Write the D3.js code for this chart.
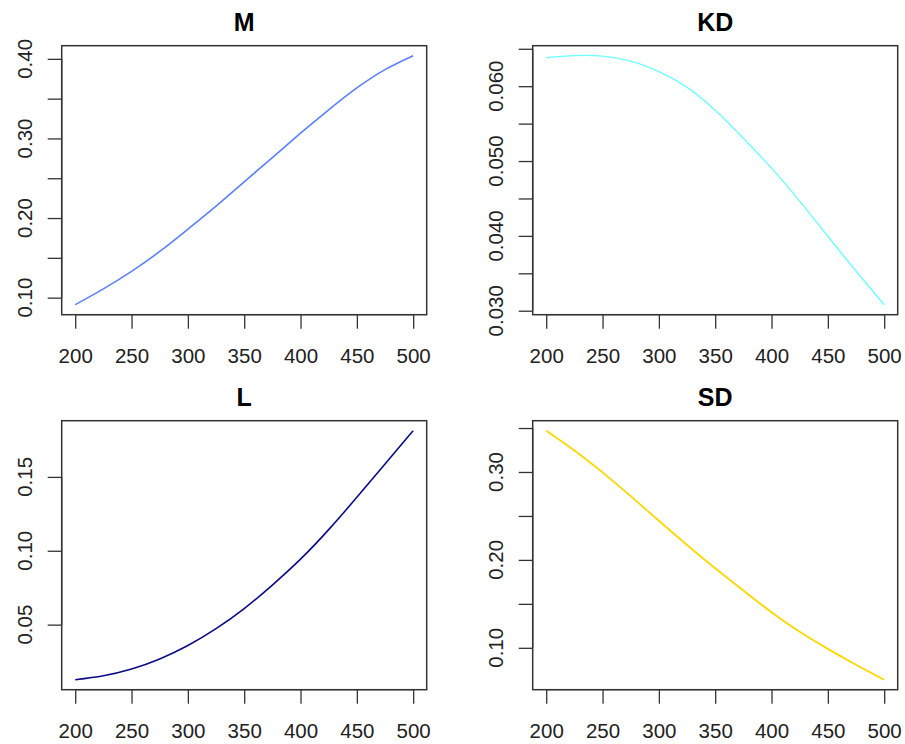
<!DOCTYPE html>
<html>
<head>
<meta charset="utf-8">
<script src="https://cdn.jsdelivr.net/npm/d3@7"></script>
<style>
  body { margin: 0; background: #fff; }
  svg { display: block; }
  text { font-family: "Liberation Sans", Arial, sans-serif; fill: #222; }
</style>
</head>
<body>
<svg id="chart" width="905" height="744"></svg>
<script>
'use strict'

// x values shared by all four panels
let xs = [200, 225, 250, 275, 300, 325, 350, 375, 400, 425, 450, 475, 500]

let m_vals  = [0.0911, 0.111, 0.133, 0.158, 0.186, 0.215, 0.2455, 0.276, 0.3066, 0.336, 0.3635, 0.3865, 0.404]
let kd_vals = [0.0638, 0.06408, 0.06402, 0.06335, 0.06195, 0.05985, 0.0568, 0.05305, 0.04905, 0.04465, 0.03995, 0.0353, 0.0308]
let l_vals  = [0.0127, 0.0154, 0.0200, 0.0268, 0.0359, 0.0473, 0.0609, 0.0768, 0.0943, 0.1143, 0.1362, 0.1587, 0.1813]
let sd_vals = [0.347, 0.3245, 0.2995, 0.2725, 0.2445, 0.217, 0.1905, 0.1652, 0.1405, 0.1182, 0.0988, 0.0808, 0.0637]

let x_ticks = [200, 250, 300, 350, 400, 450, 500]

let m_ticks  = [0.10, 0.15, 0.20, 0.25, 0.30, 0.35, 0.40]
let m_labels = [0.10, 0.20, 0.30, 0.40]
let kd_ticks  = [0.030, 0.035, 0.040, 0.045, 0.050, 0.055, 0.060, 0.065]
let kd_labels = [0.030, 0.040, 0.050, 0.060]
let l_ticks  = [0.05, 0.10, 0.15]
let l_labels = [0.05, 0.10, 0.15]
let sd_ticks  = [0.10, 0.15, 0.20, 0.25, 0.30, 0.35]
let sd_labels = [0.10, 0.20, 0.30]

let panels = [
  {title: 'M',  vals: m_vals,  ticks: m_ticks,  labels: m_labels,  fmt: d3.format('.2f'), color: '#5a80ff', width: 1.6, left: 61.7,  top: 45.7},
  {title: 'KD', vals: kd_vals, ticks: kd_ticks, labels: kd_labels, fmt: d3.format('.3f'), color: '#6dffff', width: 1.4, left: 532.7, top: 45.7},
  {title: 'L',  vals: l_vals,  ticks: l_ticks,  labels: l_labels,  fmt: d3.format('.2f'), color: '#0a0a8b', width: 1.6, left: 61.7,  top: 420.7},
  {title: 'SD', vals: sd_vals, ticks: sd_ticks, labels: sd_labels, fmt: d3.format('.2f'), color: '#ffd700', width: 1.8, left: 532.7, top: 420.7}
]

let box_w = 365
let box_h = 269
let tick_len = 14
let axis_col = '#333'

let svg = d3.select('#chart')

// R style range: data extent widened by 4% on each side
function r_domain(arr){
  let ext = d3.extent(arr)
  let pad = (ext[1] - ext[0]) * 0.04
  return [ext[0] - pad, ext[1] + pad]
}

function draw_panel(p){
  let g = svg.append('g').attr('transform', 'translate(' + p.left + ',' + p.top + ')')

  let xScale = d3.scaleLinear().domain(r_domain(xs)).range([0, box_w])
  let yScale = d3.scaleLinear().domain(r_domain(p.vals)).range([box_h, 0])

  // curve
  let pts = xs.map(function(x, i){ return [x, p.vals[i]] })
  g.append('path')
    .datum(pts)
    .attr('fill', 'none')
    .attr('stroke', p.color)
    .attr('stroke-width', p.width)
    .attr('d', d3.line()
      .x(function(d){ return xScale(d[0]) })
      .y(function(d){ return yScale(d[1]) })
      .curve(d3.curveNatural))

  // x axis
  let xa = g.append('g').attr('transform', 'translate(0,' + box_h + ')')
    .call(d3.axisBottom(xScale).tickValues(x_ticks).tickSize(tick_len).tickPadding(20).tickSizeOuter(0))
  xa.select('.domain').attr('d', 'M' + xScale(x_ticks[0]) + ',0H' + xScale(x_ticks[x_ticks.length - 1]))
  xa.selectAll('line, path').attr('stroke', axis_col).attr('stroke-width', 1.3)
  xa.selectAll('text').attr('font-size', 20.5).attr('fill', '#222')
    .attr('font-family', '"Liberation Sans", Arial, sans-serif')

  // y axis
  let ya = g.append('g')
    .call(d3.axisLeft(yScale).tickValues(p.ticks).tickSize(tick_len).tickFormat('').tickSizeOuter(0))
  let yt = p.ticks
  ya.select('.domain').attr('d', 'M0,' + yScale(yt[0]) + 'V' + yScale(yt[yt.length - 1]))
  ya.selectAll('line, path').attr('stroke', axis_col).attr('stroke-width', 1.3)

  g.selectAll('.ylab')
    .data(p.labels)
    .enter()
    .append('text')
    .attr('class', 'ylab')
    .attr('transform', function(d){ return 'translate(-30,' + yScale(d) + ') rotate(-90)' })
    .attr('text-anchor', 'middle')
    .attr('font-size', 20.5)
    .text(function(d){ return p.fmt(d) })

  // box
  g.append('rect')
    .attr('width', box_w).attr('height', box_h)
    .attr('fill', 'none').attr('stroke', axis_col).attr('stroke-width', 1.5)

  // title
  g.append('text')
    .attr('x', box_w / 2).attr('y', -15)
    .attr('text-anchor', 'middle')
    .attr('font-size', 25).attr('font-weight', 'bold')
    .style('fill', '#000')
    .text(p.title)
}

panels.forEach(draw_panel)
</script>
</body>
</html>
